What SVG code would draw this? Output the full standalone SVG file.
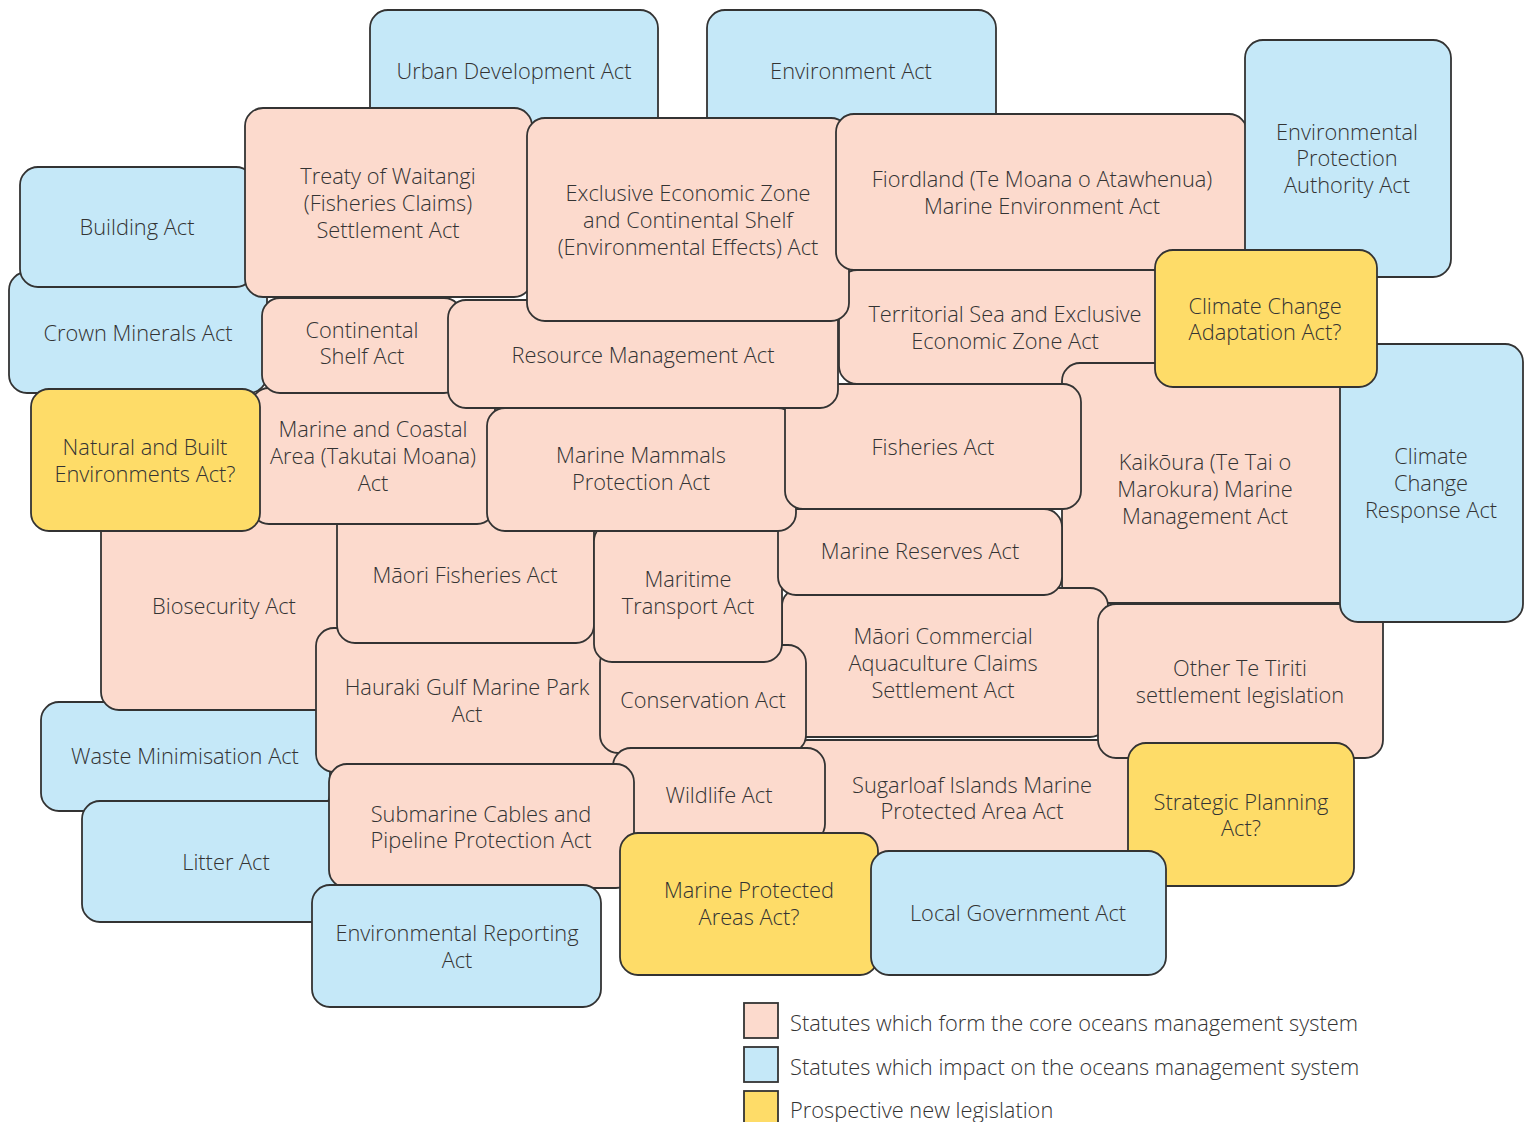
<svg xmlns="http://www.w3.org/2000/svg" width="1529" height="1122" viewBox="0 0 1529 1122">
<style>
rect.n{stroke:#333;stroke-width:1.8}
.p{fill:#FCDACD}
.b{fill:#C5E8F8}
.y{fill:#FEDC68}
text{font-family:"Open Sans","Noto Sans","Liberation Sans",sans-serif;font-weight:300;font-size:21.8px;fill:#333;text-anchor:middle}
text.l{text-anchor:start}
</style>
<rect width="1529" height="1122" fill="#fff"/>
<g id="urban"><rect class="n b" x="370" y="10" width="288" height="125" rx="18"/><text x="514" y="79">Urban Development Act</text></g>
<g id="environment"><rect class="n b" x="707" y="10" width="289" height="125" rx="18"/><text x="851" y="79">Environment Act</text></g>
<g id="crown"><rect class="n b" x="9" y="272" width="258" height="121" rx="18"/><text x="138" y="341">Crown Minerals Act</text></g>
<g id="building"><rect class="n b" x="20" y="167" width="234" height="120" rx="18"/><text x="137" y="235">Building Act</text></g>
<g id="treaty"><rect class="n p" x="245" y="108" width="287" height="189" rx="18"/><text x="388" y="184">Treaty of Waitangi</text><text x="388" y="211">(Fisheries Claims)</text><text x="388" y="238">Settlement Act</text></g>
<g id="waste"><rect class="n b" x="41" y="702" width="289" height="109" rx="18"/><text x="185" y="764">Waste Minimisation Act</text></g>
<g id="biosecurity"><rect class="n p" x="101" y="504" width="247" height="206" rx="18"/><text x="224" y="614">Biosecurity Act</text></g>
<g id="hauraki"><rect class="n p" x="316" y="628" width="302" height="144" rx="18"/><text x="467" y="695">Hauraki Gulf Marine Park</text><text x="467" y="722">Act</text></g>
<g id="maori-fisheries"><rect class="n p" x="337" y="507" width="257" height="136" rx="18"/><text x="465" y="583">Māori Fisheries Act</text></g>
<g id="marine-coastal"><rect class="n p" x="251" y="388" width="244" height="136" rx="18"/><text x="373" y="437">Marine and Coastal</text><text x="373" y="464">Area (Takutai Moana)</text><text x="373" y="491">Act</text></g>
<g id="continental-shelf"><rect class="n p" x="262" y="298" width="200" height="95" rx="18"/><text x="362" y="338">Continental</text><text x="362" y="364">Shelf Act</text></g>
<g id="litter"><rect class="n b" x="82" y="801" width="288" height="121" rx="18"/><text x="226" y="870">Litter Act</text></g>
<g id="sugarloaf"><rect class="n p" x="790" y="740" width="342" height="122" rx="18"/><text x="972" y="793">Sugarloaf Islands Marine</text><text x="972" y="819">Protected Area Act</text></g>
<g id="territorial"><rect class="n p" x="839" y="270" width="332" height="114" rx="18"/><text x="1005" y="322">Territorial Sea and Exclusive</text><text x="1005" y="349">Economic Zone Act</text></g>
<g id="kaikoura"><rect class="n p" x="1062" y="363" width="310" height="240" rx="18"/><text x="1205" y="470">Kaikōura (Te Tai o</text><text x="1205" y="497">Marokura) Marine</text><text x="1205" y="524">Management Act</text></g>
<g id="maori-commercial"><rect class="n p" x="782" y="588" width="326" height="149" rx="18"/><text x="943" y="644">Māori Commercial</text><text x="943" y="671">Aquaculture Claims</text><text x="943" y="698">Settlement Act</text></g>
<g id="other-te-tiriti"><rect class="n p" x="1098" y="604" width="285" height="154" rx="18"/><text x="1240" y="676">Other Te Tiriti</text><text x="1240" y="703">settlement legislation</text></g>
<g id="conservation"><rect class="n p" x="600" y="645" width="206" height="108" rx="18"/><text x="703" y="708">Conservation Act</text></g>
<g id="maritime"><rect class="n p" x="594" y="523" width="188" height="139" rx="18"/><text x="688" y="587">Maritime</text><text x="688" y="614">Transport Act</text></g>
<g id="marine-reserves"><rect class="n p" x="778" y="509" width="284" height="86" rx="18"/><text x="920" y="559">Marine Reserves Act</text></g>
<g id="marine-mammals"><rect class="n p" x="487" y="408" width="309" height="123" rx="18"/><text x="641" y="463">Marine Mammals</text><text x="641" y="490">Protection Act</text></g>
<g id="fisheries"><rect class="n p" x="785" y="384" width="296" height="125" rx="18"/><text x="933" y="455">Fisheries Act</text></g>
<g id="resource-management"><rect class="n p" x="448" y="300" width="390" height="108" rx="18"/><text x="643" y="363">Resource Management Act</text></g>
<g id="eez"><rect class="n p" x="527" y="118" width="322" height="203" rx="18"/><text x="688" y="201">Exclusive Economic Zone</text><text x="688" y="228">and Continental Shelf</text><text x="688" y="255">(Environmental Effects) Act</text></g>
<g id="fiordland"><rect class="n p" x="836" y="114" width="411" height="156" rx="18"/><text x="1042" y="187">Fiordland (Te Moana o Atawhenua)</text><text x="1042" y="214">Marine Environment Act</text></g>
<g id="epa"><rect class="n b" x="1245" y="40" width="206" height="237" rx="18"/><text x="1347" y="140">Environmental</text><text x="1347" y="166">Protection</text><text x="1347" y="193">Authority Act</text></g>
<g id="ccr"><rect class="n b" x="1340" y="344" width="183" height="278" rx="18"/><text x="1431" y="464">Climate</text><text x="1431" y="491">Change</text><text x="1431" y="518">Response Act</text></g>
<g id="climate-adaptation"><rect class="n y" x="1155" y="250" width="222" height="137" rx="18"/><text x="1265" y="314">Climate Change</text><text x="1265" y="340">Adaptation Act?</text></g>
<g id="nbe"><rect class="n y" x="31" y="389" width="229" height="142" rx="18"/><text x="145" y="455">Natural and Built</text><text x="145" y="482">Environments Act?</text></g>
<g id="wildlife"><rect class="n p" x="613" y="748" width="212" height="94" rx="18"/><text x="719" y="803">Wildlife Act</text></g>
<g id="submarine"><rect class="n p" x="329" y="764" width="305" height="124" rx="18"/><text x="481" y="822">Submarine Cables and</text><text x="481" y="848">Pipeline Protection Act</text></g>
<g id="env-reporting"><rect class="n b" x="312" y="885" width="289" height="122" rx="18"/><text x="457" y="941">Environmental Reporting</text><text x="457" y="968">Act</text></g>
<g id="mpa"><rect class="n y" x="620" y="833" width="258" height="142" rx="18"/><text x="749" y="898">Marine Protected</text><text x="749" y="925">Areas Act?</text></g>
<g id="strategic"><rect class="n y" x="1128" y="743" width="226" height="143" rx="18"/><text x="1241" y="810">Strategic Planning</text><text x="1241" y="836">Act?</text></g>
<g id="local-gov"><rect class="n b" x="871" y="851" width="295" height="124" rx="18"/><text x="1018" y="921">Local Government Act</text></g>
<g id="connectors"></g>
<g id="legend">
<rect class="n p" x="744" y="1003" width="34" height="35"/>
<rect class="n b" x="744" y="1047" width="34" height="35"/>
<rect class="n y" x="744" y="1091" width="34" height="35"/>
<text class="l" x="790" y="1031">Statutes which form the core oceans management system</text>
<text class="l" x="790" y="1075">Statutes which impact on the oceans management system</text>
<text class="l" x="790" y="1118">Prospective new legislation</text>
</g>
</svg>
